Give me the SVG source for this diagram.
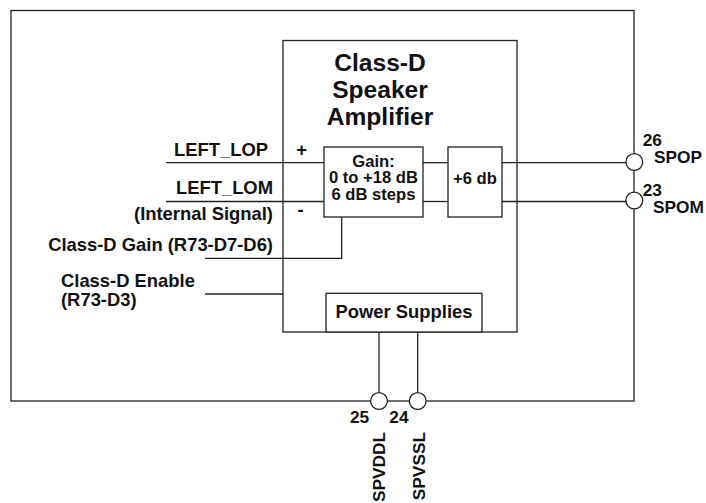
<svg xmlns="http://www.w3.org/2000/svg" width="706" height="503" viewBox="0 0 706 503">
<style>
.box{fill:#fff;stroke:#222;stroke-width:1.3}
.ln{fill:none;stroke:#222;stroke-width:1.3}
.pin{fill:#fff;stroke:#222;stroke-width:1.3}
text{font-family:"Liberation Sans",Arial,sans-serif;font-weight:bold;fill:#111}
.lbl{font-size:18.4px}
.pl{font-size:17.3px}
.sm{font-size:16.6px}
.ttl{font-size:24.6px}
</style>
<rect width="706" height="503" fill="#fff"/>
<g id="chip">
<rect class="box" x="11" y="10.5" width="623" height="390.5"/>
</g>
<g id="amplifier">
<rect class="box" x="283" y="40.5" width="234" height="291.5"/>
<text class="ttl" x="380" y="71" text-anchor="middle">Class-D</text>
<text class="ttl" x="380" y="98" text-anchor="middle">Speaker</text>
<text class="ttl" x="380" y="125" text-anchor="middle">Amplifier</text>
<text class="lbl" x="301.5" y="156" text-anchor="middle">+</text>
<text class="lbl" x="300.5" y="216" text-anchor="middle">-</text>
</g>
<g id="connectors">
<polyline class="ln" points="166,162.7 324,162.7"/>
<polyline class="ln" points="166,201.5 324,201.5"/>
<polyline class="ln" points="423,162.7 448,162.7"/>
<polyline class="ln" points="423,201.5 448,201.5"/>
<polyline class="ln" points="502,162.7 626,162.7"/>
<polyline class="ln" points="502,201.5 626,201.5"/>
<polyline class="ln" points="341.7,217 341.7,258.3 205,258.3"/>
<polyline class="ln" points="205,294 283,294"/>
<polyline class="ln" points="379,332 379,392.5"/>
<polyline class="ln" points="417.7,332 417.7,392.5"/>
</g>
<g id="gain">
<rect class="box" x="324" y="147" width="99" height="70"/>
<text class="sm" x="373.5" y="166.5" text-anchor="middle">Gain:</text>
<text class="sm" x="373.5" y="183.3" text-anchor="middle">0 to +18 dB</text>
<text class="sm" x="373.5" y="200" text-anchor="middle">6 dB steps</text>
</g>
<g id="boost">
<rect class="box" x="448" y="147" width="54" height="70"/>
<text class="sm" x="475" y="184.3" text-anchor="middle">+6 db</text>
</g>
<g id="power">
<rect class="box" x="326" y="293.3" width="156" height="38.7"/>
<text class="lbl" x="404" y="318.3" text-anchor="middle">Power Supplies</text>
</g>
<g id="inputs">
<text class="lbl" x="268" y="155.7" text-anchor="end">LEFT_LOP</text>
<text class="lbl" x="273" y="194.3" text-anchor="end">LEFT_LOM</text>
<text class="lbl" x="273" y="220" text-anchor="end">(Internal Signal)</text>
<text class="lbl" x="273" y="250.7" text-anchor="end">Class-D Gain (R73-D7-D6)</text>
<text class="lbl" x="61" y="286.7">Class-D Enable</text>
<text class="lbl" x="61" y="306">(R73-D3)</text>
</g>
<g id="pin-spop">
<circle class="pin" cx="634.3" cy="162" r="8.4"/>
<text class="pl" x="642.7" y="145.7">26</text>
<text class="pl" x="654" y="163.3">SPOP</text>
</g>
<g id="pin-spom">
<circle class="pin" cx="634.3" cy="200.5" r="8.4"/>
<text class="pl" x="642.7" y="195.7">23</text>
<text class="pl" x="653" y="212.5">SPOM</text>
</g>
<g id="pin-spvddl">
<circle class="pin" cx="379" cy="401" r="8.4"/>
<text class="pl" x="350" y="423.3">25</text>
<text class="pl" transform="translate(385,432) rotate(-90)" text-anchor="end">SPVDDL</text>
</g>
<g id="pin-spvssl">
<circle class="pin" cx="417.7" cy="401" r="8.4"/>
<text class="pl" x="389.3" y="423.3">24</text>
<text class="pl" transform="translate(425,432) rotate(-90)" text-anchor="end">SPVSSL</text>
</g>
</svg>
